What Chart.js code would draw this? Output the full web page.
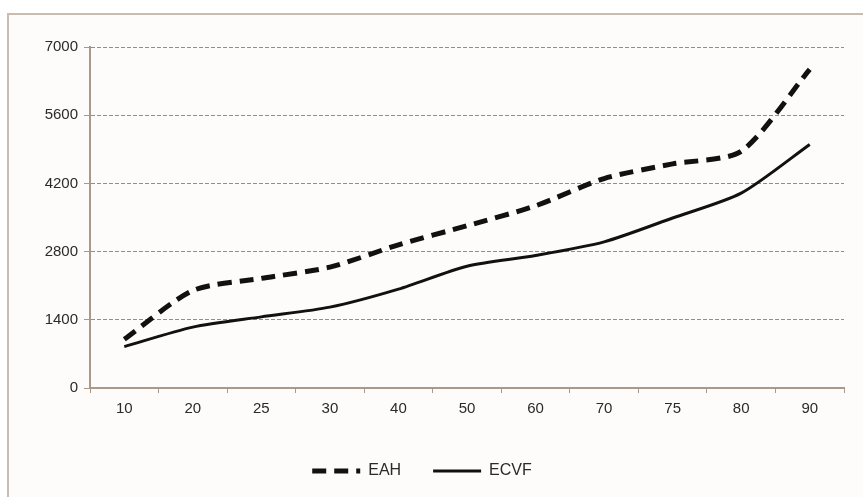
<!DOCTYPE html>
<html lang="en">
<head>
  <meta charset="UTF-8" />
  <title>EAH / ECVF</title>
  <script src="https://cdn.jsdelivr.net/npm/chart.js"></script>
  <style>
    html, body { margin: 0; padding: 0; background: #fff; }
    .frame {
      position: absolute; left: 7px; top: 13px; width: 870px; height: 500px;
      border: 2px solid #c9bdb1; background: #fdfcfa; box-sizing: border-box;
    }
    .wrap { position: absolute; left: 0; top: 0; width: 863px; height: 497px; }
  </style>
</head>
<body>
  <div class="frame"></div>
  <div class="wrap"><canvas id="chart"></canvas></div>

  <script>
    const categories = ['10', '20', '25', '30', '40', '50', '60', '70', '75', '80', '90'];
    const eahValues = [1000, 2000, 2250, 2480, 2940, 3330, 3740, 4300, 4600, 4860, 6540];
    const ecvfValues = [850, 1250, 1460, 1660, 2030, 2500, 2720, 3000, 3490, 4000, 5000];
    const yTicks = [0, 1400, 2800, 4200, 5600, 7000];

    const textColor = '#2a2a2a';
    const axisColor = '#a8998c';
    const font = { family: 'Liberation Sans, Arial', size: 15 };

    new Chart(document.getElementById('chart'), {
      type: 'line',
      data: {
        labels: categories,
        datasets: [
          {
            label: 'EAH',
            data: eahValues,
            borderColor: '#111',
            borderWidth: 5,
            borderDash: [14, 8],
            pointRadius: 0,
            tension: 0.25,
            fill: false
          },
          {
            label: 'ECVF',
            data: ecvfValues,
            borderColor: '#111',
            borderWidth: 3,
            pointRadius: 0,
            tension: 0.25,
            fill: false
          }
        ]
      },
      options: {
        responsive: true,
        maintainAspectRatio: false,
        animation: false,
        layout: { padding: { left: 0, top: 47, right: 19, bottom: 8 } },
        plugins: {
          legend: {
            position: 'bottom',
            labels: {
              usePointStyle: true,
              pointStyle: 'line',
              pointStyleWidth: 48,
              boxHeight: 16,
              padding: 32,
              color: textColor,
              font: { family: 'Liberation Sans, Arial', size: 16 },
              // point style legend items lose the dataset dash, put it back
              generateLabels: chart =>
                Chart.defaults.plugins.legend.labels.generateLabels(chart).map((item, i) => ({
                  ...item,
                  lineDash: chart.data.datasets[i].borderDash || [],
                  lineWidth: chart.data.datasets[i].borderWidth
                }))
            }
          },
          tooltip: { enabled: false }
        },
        scales: {
          x: {
            offset: true,
            grid: { drawOnChartArea: false, offset: true, tickLength: 5, color: axisColor },
            border: { display: true, color: axisColor, width: 2 },
            ticks: { color: textColor, padding: 7, font: font },
            afterFit: s => { s.height = 43; }
          },
          y: {
            min: 0,
            max: 7000,
            afterBuildTicks: s => { s.ticks = yTicks.map(v => ({ value: v })); },
            grid: {
              color: '#b5806e',
              tickColor: axisColor,
              tickBorderDash: [],
              tickLength: 6
            },
            border: { display: true, color: axisColor, width: 2, dash: [4, 2] },
            ticks: { color: textColor, padding: 6, font: font, callback: v => String(v) },
            afterFit: s => { s.width = 90; }
          }
        }
      }
    });
  </script>
</body>
</html>
